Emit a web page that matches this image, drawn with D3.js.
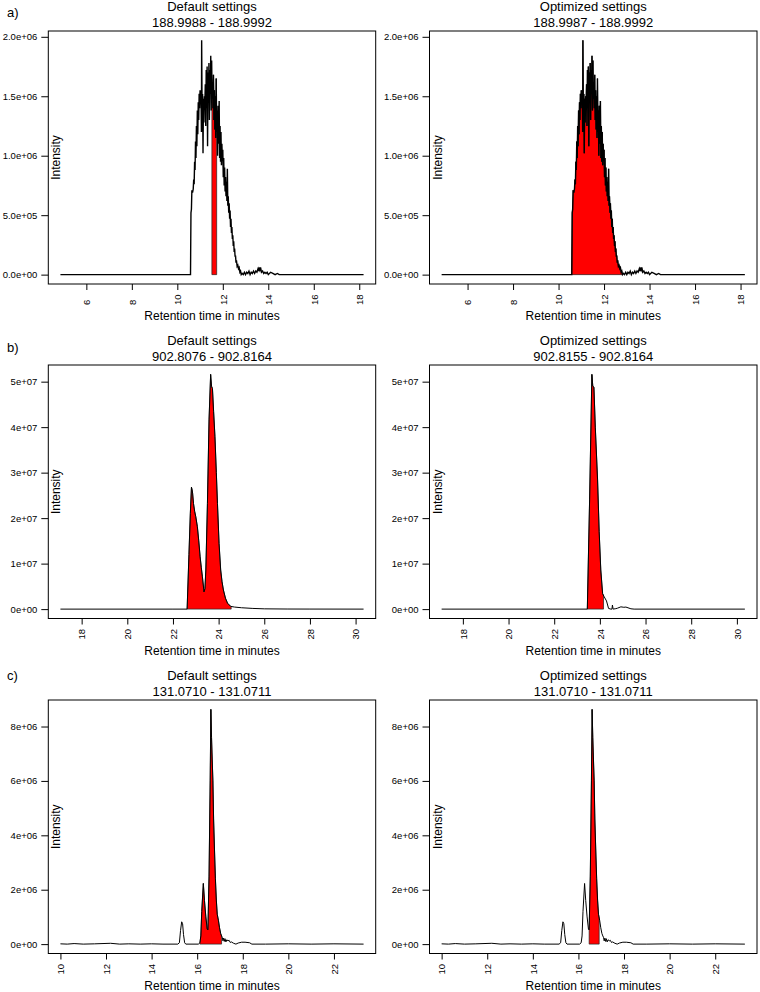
<!DOCTYPE html>
<html><head><meta charset="utf-8">
<script src="https://cdn.jsdelivr.net/npm/d3@7/dist/d3.min.js"></script>
<style>
body{margin:0;background:#fff}
text{font-family:"Liberation Sans",Arial,Helvetica,sans-serif;fill:#000}
</style>
</head><body>
<svg id="chart" width="760" height="992"></svg>
<script>
// ---------------- DATA ----------------
const panelLabels = ["a)", "b)", "c)"];
const titlesTop = ["Default settings", "Optimized settings"];
const massRanges = [
  ["188.9988 - 188.9992", "188.9987 - 188.9992"],
  ["902.8076 - 902.8164", "902.8155 - 902.8164"],
  ["131.0710 - 131.0711", "131.0710 - 131.0711"]
];
const xLabel = "Retention time in minutes";
const yLabel = "Intensity";

// Integration limits (retention time, min): [default, optimized]
const limitsA = [[11.52, 11.73], [10.58, 12.82]];
const limitsB = [[22.62, 24.55], [23.45, 24.16]];
const limitsC = [[16.12, 17.07], [16.47, 16.91]];

// Tick values and labels
const xTicksA = [6, 8, 10, 12, 14, 16, 18];
const xTicksB = [18, 20, 22, 24, 26, 28, 30];
const xTicksC = [10, 12, 14, 16, 18, 20, 22];
const yTicksA = [0, 5e5, 1e6, 1.5e6, 2e6];
const yLabelsA = ["0.0e+00", "5.0e+05", "1.0e+06", "1.5e+06", "2.0e+06"];
const yTicksB = [0, 1e7, 2e7, 3e7, 4e7, 5e7];
const yLabelsB = ["0e+00", "1e+07", "2e+07", "3e+07", "4e+07", "5e+07"];
const yTicksC = [0, 2e6, 4e6, 6e6, 8e6];
const yLabelsC = ["0e+00", "2e+06", "4e+06", "6e+06", "8e+06"];

// Chromatogram a (same trace in both panels): [retention time, intensity]
const chromA = [
[4.86,0],[10.58,0],[10.60,0.52e6],[10.62,0.55e6],[10.64,0.71e6],[10.67,0.69e6],[10.70,0.72e6],
[10.72,0.80e6],[10.74,0.76e6],[10.76,0.95e6],[10.78,0.88e6],[10.80,1.12e6],[10.82,0.98e6],
[10.84,1.25e6],[10.86,1.08e6],[10.88,1.38e6],[10.90,1.18e6],[10.92,1.45e6],[10.94,1.30e6],
[10.96,1.52e6],[10.98,1.40e6],[11.00,1.55e6],[11.02,1.45e6],[11.04,1.55e6],[11.06,1.20e6],
[11.07,1.97e6],[11.09,1.35e6],[11.11,1.52e6],[11.13,1.02e6],[11.15,1.48e6],[11.17,1.28e6],
[11.19,1.50e6],[11.21,1.42e6],[11.23,1.60e6],[11.25,1.25e6],[11.27,1.72e6],[11.29,1.40e6],
[11.31,1.75e6],[11.33,1.08e6],[11.35,1.70e6],[11.37,1.45e6],[11.39,1.78e6],[11.41,1.30e6],
[11.43,1.72e6],[11.45,1.52e6],[11.47,1.84e6],[11.49,1.38e6],[11.51,1.80e6],[11.53,1.48e6],
[11.55,1.62e6],[11.57,1.40e6],[11.59,1.68e6],[11.61,1.30e6],[11.63,1.55e6],[11.65,1.22e6],
[11.67,1.50e6],[11.69,1.15e6],[11.71,1.65e6],[11.73,1.20e6],[11.75,1.38e6],[11.77,1.00e6],
[11.79,1.42e6],[11.81,1.10e6],[11.84,1.46e6],[11.86,0.98e6],[11.88,1.25e6],[11.90,0.95e6],
[11.92,1.20e6],[11.94,0.92e6],[11.96,1.10e6],[11.98,0.96e6],[12.00,1.05e6],[12.02,0.82e6],
[12.04,0.98e6],[12.06,0.75e6],[12.08,0.90e6],[12.10,0.70e6],[12.12,0.82e6],[12.14,0.66e6],
[12.16,0.78e6],[12.18,0.62e6],[12.20,0.89e6],[12.22,0.58e6],[12.24,0.66e6],[12.26,0.52e6],
[12.28,0.60e6],[12.30,0.47e6],[12.32,0.54e6],[12.34,0.40e6],[12.36,0.47e6],[12.38,0.35e6],
[12.40,0.40e6],[12.42,0.30e6],[12.44,0.33e6],[12.46,0.24e6],[12.48,0.28e6],[12.50,0.19e6],
[12.52,0.22e6],[12.54,0.15e6],[12.56,0.16e6],[12.58,0.10e6],[12.60,0.12e6],[12.63,0.07e6],
[12.66,0.08e6],[12.69,0.05e6],[12.72,0.06e6],[12.75,0.02e6],[12.78,0.03e6],[12.81,0],
[12.85,0.01e6],[12.90,0],[12.95,0.02e6],[13.00,0],[13.05,0.02e6],[13.10,0.01e6],[13.15,0.03e6],
[13.20,0],[13.25,0.02e6],[13.30,0.01e6],[13.35,0.03e6],[13.40,0.01e6],[13.45,0.03e6],
[13.50,0.02e6],[13.55,0.05e6],[13.58,0.03e6],[13.60,0.06e6],[13.63,0.04e6],[13.66,0.06e6],
[13.70,0.02e6],[13.75,0.03e6],[13.80,0.01e6],[13.85,0.02e6],[13.90,0.01e6],[13.95,0.02e6],
[14.00,0],[14.10,0.02e6],[14.20,0.01e6],[14.30,0],[14.40,0.01e6],[14.48,0],[18.19,0]
];

// Chromatogram b, default m/z window
const chromBdefault = [
[17.07,0],[22.0,0],[22.62,0],[22.70,1.2e7],[22.76,2.1e7],[22.81,2.68e7],[22.84,2.62e7],
[22.86,2.55e7],[22.90,2.32e7],[22.95,2.15e7],[23.00,2.03e7],[23.07,1.81e7],[23.13,1.50e7],
[23.19,1.15e7],[23.24,0.92e7],[23.29,0.71e7],[23.36,0.38e7],[23.40,0.45e7],[23.44,0.86e7],
[23.51,2.32e7],[23.58,4.16e7],[23.65,5.16e7],[23.69,4.90e7],[23.73,4.85e7],[23.78,4.35e7],
[23.84,3.79e7],[23.90,3.00e7],[23.95,2.32e7],[24.02,1.44e7],[24.09,0.86e7],[24.15,0.60e7],
[24.21,0.42e7],[24.30,0.24e7],[24.39,0.13e7],[24.53,0.06e7],[24.70,0.045e7],[25.00,0.03e7],
[25.50,0.015e7],[26.00,0.006e7],[27.00,0.002e7],[28.00,0.001e7],[30.35,0]
];

// Chromatogram b, optimized m/z window
const chromBopt = [
[17.07,0],[23.45,0],[23.55,2.4e7],[23.65,5.16e7],[23.69,4.90e7],[23.74,4.88e7],[23.80,4.0e7],
[23.90,2.84e7],[23.97,1.70e7],[24.04,0.86e7],[24.12,0.34e7],[24.19,0.27e7],[24.29,0.18e7],
[24.38,0.015e7],[24.48,0],[24.53,0],[24.55,0.09e7],[24.58,0],[24.70,0.01e7],[24.77,0.02e7],
[24.92,0.05e7],[25.05,0.04e7],[25.14,0.045e7],[25.36,0.007e7],[25.50,0],[30.35,0]
];

// Chromatogram c (same trace in both panels)
const chromC = [
[10.0,0.01e6],[10.3,0],[10.6,0.02e6],[11.0,0],[11.5,0.01e6],[12.2,0.03e6],[12.6,0],[13.0,0.01e6],
[13.5,0],[14.0,0.01e6],[14.5,0],[15.15,0],[15.22,0.05e6],[15.27,0.5e6],[15.32,0.82e6],
[15.36,0.75e6],[15.40,0.35e6],[15.45,0.05e6],[15.50,0],[16.05,0],[16.12,0.05e6],[16.16,0.3e6],
[16.20,1.2e6],[16.27,2.23e6],[16.32,1.6e6],[16.38,1.0e6],[16.44,0.55e6],[16.47,0.52e6],
[16.52,2.5e6],[16.57,6.0e6],[16.60,8.63e6],[16.63,7.6e6],[16.66,6.77e6],[16.69,6.0e6],
[16.72,4.6e6],[16.76,3.46e6],[16.80,2.4e6],[16.84,1.62e6],[16.88,1.1e6],[16.93,0.88e6],
[16.98,0.6e6],[17.03,0.39e6],[17.07,0.30e6],[17.10,0.25e6],[17.13,0.12e6],[17.16,0.22e6],
[17.19,0.10e6],[17.22,0.20e6],[17.26,0.08e6],[17.30,0.16e6],[17.35,0.12e6],[17.40,0.14e6],
[17.45,0.06e6],[17.50,0.08e6],[17.60,0.03e6],[17.70,0],[17.80,0.04e6],[17.95,0.07e6],
[18.10,0.07e6],[18.30,0.05e6],[18.40,0],[19.0,0],[20.0,0.01e6],[21.0,0],[22.0,0.01e6],[23.3,0]
];

// ---------------- LAYOUT ----------------
const cols = [{left: 48.3, right: 375.7}, {left: 429.5, right: 757}];
const rows = [
  {top: 31, bottom: 284, labelY: 17, lw: 1.4},
  {top: 365, bottom: 618.5, labelY: 351.5, lw: 1.0},
  {top: 700, bottom: 953.5, labelY: 680, lw: 1.0}
];

const svg = d3.select("#chart");

function padExtent(ext) {
  const r = ext[1] - ext[0];
  return [ext[0] - 0.04 * r, ext[1] + 0.04 * r];
}

function valueAt(data, t) {
  for (let i = 0; i < data.length - 1; i++) {
    const a = data[i], b = data[i + 1];
    if (t >= a[0] && t <= b[0]) {
      const f = (b[0] === a[0]) ? 0 : (t - a[0]) / (b[0] - a[0]);
      return a[1] + f * (b[1] - a[1]);
    }
  }
  return 0;
}

function drawPanel(ri, ci, data, lim, xTicks, yTicks, yLabels) {
  const R = rows[ri], C = cols[ci];
  const g = svg.append("g");
  const x = d3.scaleLinear().domain(padExtent(d3.extent(data, d => d[0]))).range([C.left, C.right]);
  const y = d3.scaleLinear().domain(padExtent([d3.min(data, d => d[1]), d3.max(data, d => d[1])])).range([R.bottom, R.top]);

  // integrated area polygon
  const poly = [[lim[0], 0], [lim[0], valueAt(data, lim[0])]];
  data.forEach(d => { if (d[0] > lim[0] && d[0] < lim[1]) poly.push(d); });
  poly.push([lim[1], valueAt(data, lim[1])]);
  poly.push([lim[1], 0]);
  const lineGen = d3.line().x(d => x(d[0])).y(d => y(d[1]));
  g.append("path").attr("d", lineGen(poly) + "Z")
    .attr("fill", "#ff0000").attr("stroke", "#222").attr("stroke-width", 0.7);

  // chromatogram trace
  g.append("path").datum(data).attr("d", lineGen)
    .attr("fill", "none").attr("stroke", "#000").attr("stroke-width", R.lw)
    .attr("stroke-linejoin", "miter");

  // box
  g.append("rect").attr("x", C.left).attr("y", R.top)
    .attr("width", C.right - C.left).attr("height", R.bottom - R.top)
    .attr("fill", "none").attr("stroke", "#000").attr("stroke-width", 1);

  // y axis
  const ya = g.append("g").attr("transform", `translate(${C.left},0)`)
    .call(d3.axisLeft(y).tickValues(yTicks).tickFormat((d, i) => yLabels[i]).tickSize(7).tickSizeOuter(0).tickPadding(4));
  ya.select(".domain").remove();
  ya.attr("font-family", null).attr("font-size", null);
  ya.selectAll("text").style("font-size", "9.5px");
  ya.selectAll("line").attr("stroke", "#000");

  // x axis
  const xa = g.append("g").attr("transform", `translate(0,${R.bottom})`)
    .call(d3.axisBottom(x).tickValues(xTicks).tickSize(6).tickSizeOuter(0));
  xa.select(".domain").remove();
  xa.attr("font-family", null).attr("font-size", null);
  xa.selectAll("line").attr("stroke", "#000");
  xa.selectAll("text")
    .attr("x", 0).attr("y", 0).attr("dy", "0.35em")
    .attr("text-anchor", "start")
    .attr("transform", "translate(0,21) rotate(-90)")
    .style("font-size", "9.5px");

  const cx = (C.left + C.right) / 2;
  // titles
  g.append("text").attr("x", cx).attr("y", R.top - 20).attr("text-anchor", "middle")
    .style("font-size", "13px").text(titlesTop[ci]);
  g.append("text").attr("x", cx).attr("y", R.top - 4.5).attr("text-anchor", "middle")
    .style("font-size", "13px").text(massRanges[ri][ci]);
  // axis titles
  g.append("text").attr("x", cx).attr("y", R.bottom + 36).attr("text-anchor", "middle")
    .style("font-size", "12px").text(xLabel);
  g.append("text").attr("text-anchor", "middle")
    .attr("transform", `translate(${C.left + 12},${(R.top + R.bottom) / 2}) rotate(-90)`)
    .style("font-size", "12px").text(yLabel);
}

drawPanel(0, 0, chromA, limitsA[0], xTicksA, yTicksA, yLabelsA);
drawPanel(0, 1, chromA, limitsA[1], xTicksA, yTicksA, yLabelsA);
drawPanel(1, 0, chromBdefault, limitsB[0], xTicksB, yTicksB, yLabelsB);
drawPanel(1, 1, chromBopt, limitsB[1], xTicksB, yTicksB, yLabelsB);
drawPanel(2, 0, chromC, limitsC[0], xTicksC, yTicksC, yLabelsC);
drawPanel(2, 1, chromC, limitsC[1], xTicksC, yTicksC, yLabelsC);

rows.forEach((R, i) => {
  svg.append("text").attr("x", 7).attr("y", R.labelY).style("font-size", "13px").text(panelLabels[i]);
});
</script>
</body></html>
